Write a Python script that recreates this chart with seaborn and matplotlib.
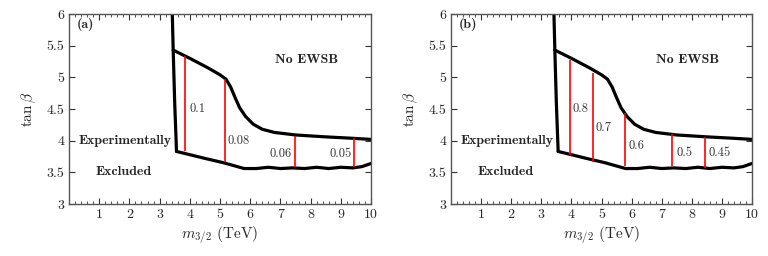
import matplotlib
matplotlib.use("Agg")
import numpy as np
import pandas as pd
import matplotlib.pyplot as plt
import seaborn as sns
from matplotlib.ticker import MultipleLocator

# ── data ────────────────────────────────────────────────────────────────────
wall_x = [3.42, 3.45, 3.50, 3.56]
wall_y = [6.00, 5.43, 4.60, 3.83]

upper_x = [3.45, 4.0, 4.6, 5.0, 5.2, 5.35, 5.5, 5.65, 5.85, 6.1, 6.4, 6.8, 7.5, 8.5, 9.3, 10.0]
upper_y = [5.43, 5.30, 5.15, 5.04, 4.97, 4.85, 4.68, 4.52, 4.38, 4.26, 4.18, 4.13, 4.09, 4.06, 4.04, 4.02]

lower_x = [3.56, 4.5, 5.13, 5.5, 5.8, 6.2, 6.6, 7.0, 7.4, 7.8, 8.2, 8.6, 9.0, 9.4, 9.7, 10.0]
lower_y = [3.83, 3.72, 3.65, 3.60, 3.56, 3.56, 3.58, 3.56, 3.57, 3.56, 3.58, 3.56, 3.58, 3.57, 3.59, 3.64]

# panel (a) contour segments
a_x = [3.85, 5.17, 7.48, 9.43]
a_lo = [3.84, 3.67, 3.58, 3.58]
a_hi = [5.33, 4.97, 4.08, 4.05]
a_labels = ["0.1", "0.08", "0.06", "0.05"]
a_lab_x = [4.25, 5.62, 7.0, 8.98]
a_lab_y = [4.50, 3.99, 3.79, 3.79]

# panel (b) contour segments
b_x = [3.94, 4.71, 5.78, 7.34, 8.44]
b_lo = [3.78, 3.67, 3.60, 3.60, 3.57]
b_hi = [5.28, 5.07, 4.43, 4.10, 4.06]
b_labels = ["0.8", "0.7", "0.6", "0.5", "0.45"]
b_lab_x = [4.31, 5.08, 6.16, 7.77, 8.94]
b_lab_y = [4.50, 4.20, 3.92, 3.80, 3.80]

sns.set_style("ticks")
plt.rcParams["font.family"] = ["cmr10", "DejaVu Serif"]
plt.rcParams["mathtext.fontset"] = "cm"
plt.rcParams["axes.formatter.use_mathtext"] = True

fig = plt.figure(figsize=(7.68, 2.56), dpi=100)
ax_a = fig.add_axes([69 / 768, 52 / 256, 302 / 768, 190 / 256])
ax_b = fig.add_axes([451 / 768, 52 / 256, 301 / 768, 190 / 256])

panels = [
    (ax_a, "(a)", a_x, a_lo, a_hi, a_labels, a_lab_x, a_lab_y),
    (ax_b, "(b)", b_x, b_lo, b_hi, b_labels, b_lab_x, b_lab_y),
]

for ax, tag, cx, clo, chi, clab, lx, ly in panels:
    for xs, ys in [(wall_x, wall_y), (upper_x, upper_y), (lower_x, lower_y)]:
        sns.lineplot(x=xs, y=ys, ax=ax, sort=False, estimator=None,
                     color="black", linewidth=2.3)
    ax.vlines(cx, clo, chi, color="red", linewidth=1.2)
    for t, x, y in zip(clab, lx, ly):
        ax.text(x, y, t, fontsize=9, ha="center", va="center", color="#333333")

    ax.text(0.25, 5.84, tag, fontsize=10, family="cmb10", ha="left", va="center")
    ax.text(7.87, 5.28, "No EWSB", fontsize=10, family="cmb10", ha="center", va="center")
    ax.text(1.85, 4.0, "Experimentally", fontsize=10, family="cmb10", ha="center", va="center")
    ax.text(1.8, 3.5, "Excluded", fontsize=10, family="cmb10", ha="center", va="center")

    ax.set_xlim(0, 10)
    ax.set_ylim(3, 6)
    ax.set_xticks(range(1, 11))
    ax.set_xticklabels([str(i) for i in range(1, 11)])
    ax.xaxis.set_minor_locator(MultipleLocator(0.2))
    ax.set_yticks([3, 3.5, 4, 4.5, 5, 5.5, 6])
    ax.set_yticklabels(["3", "3.5", "4", "4.5", "5", "5.5", "6"])
    ax.tick_params(which="both", direction="in", top=True, right=True,
                   labelsize=10, color="#333333")
    ax.tick_params(which="major", length=4, width=0.8)
    ax.tick_params(which="minor", length=2.5, width=0.6)
    for s in ax.spines.values():
        s.set_color("#555555")
        s.set_linewidth(1.0)
    ax.set_xlabel(r"$m_{3/2}$ (TeV)", fontsize=11, labelpad=2)
    ax.set_ylabel(r"$\tan\beta$", fontsize=11, labelpad=6)

fig.savefig("out.png", dpi=100)
